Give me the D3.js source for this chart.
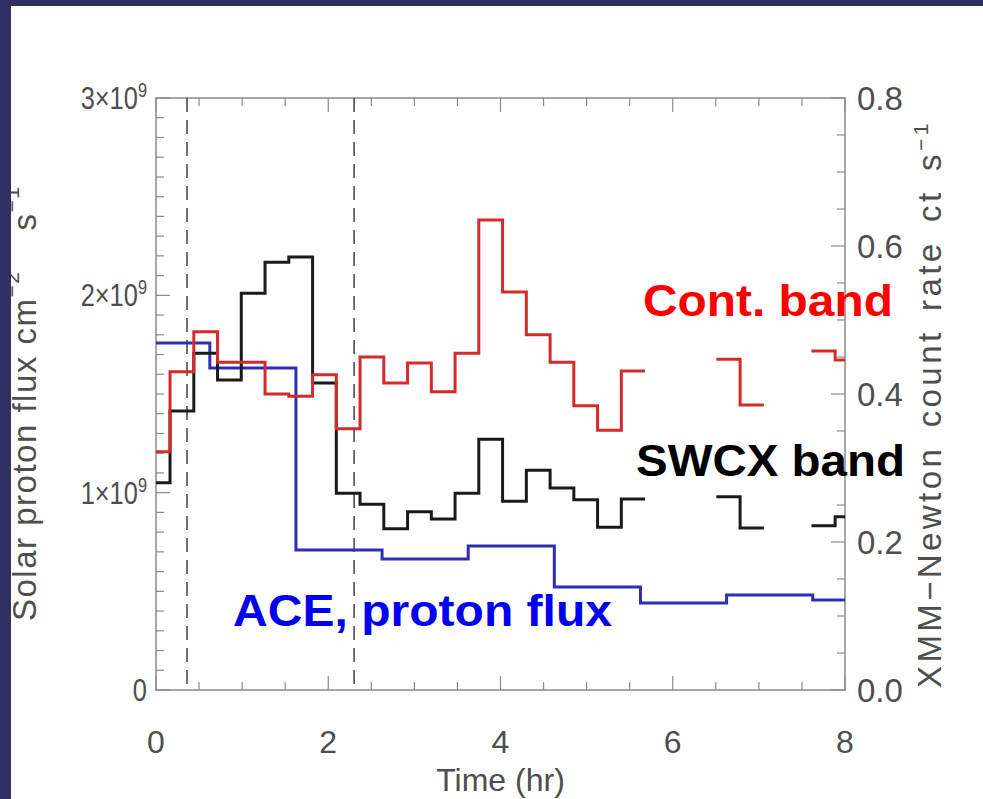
<!DOCTYPE html>
<html><head><meta charset="utf-8">
<script src="https://cdn.jsdelivr.net/npm/d3@7/dist/d3.min.js"></script>
<style>html,body{margin:0;padding:0;background:#fff;}svg{display:block;}</style>
</head><body><svg id="c" width="983" height="799"></svg>
<script>
// ---- data ----
// XMM-Newton light curve bins (bin centre, hr); null = no data
const xrayTime = [0.025,0.301,0.577,0.852,1.128,1.404,1.680,1.956,2.231,2.507,2.783,3.059,3.335,3.610,3.886,4.162,4.438,4.714,4.989,5.265,5.541,5.817,6.093,6.368,6.644,6.920,7.196,7.472,7.748,8.023];
const contBand = [0.322,0.430,0.484,0.443,0.443,0.400,0.397,0.426,0.353,0.450,0.415,0.442,0.403,0.455,0.635,0.538,0.480,0.443,0.384,0.351,0.431,null,null,null,0.447,0.385,null,null,0.458,0.446];
const swcxBand = [0.280,0.377,0.455,0.419,0.536,0.578,0.585,0.415,0.266,0.251,0.218,0.241,0.231,0.266,0.339,0.255,0.297,0.273,0.257,0.220,0.258,null,null,null,0.261,0.219,null,null,0.222,0.234];
// ACE hourly proton flux (bin centre, hr)
const aceTime = [0.125,1.125,2.125,3.125,4.125,5.125,6.125,7.125,8.125];
const aceFlux = [1.759e9,1.632e9,0.710e9,0.664e9,0.730e9,0.522e9,0.441e9,0.481e9,0.456e9];
// dashed markers
const markerTimes = [0.36, 2.30];
// ticks
const xTicks = [0,2,4,6,8];
const leftTicks = [0,1e9,2e9,3e9];
const rightTicks = [0,0.2,0.4,0.6,0.8];
const labels = ["Cont. band","SWCX band","ACE, proton flux"];

// ---- layout ----
const svg = d3.select("#c");
const L=156, R=845, T=98, B=690;
const x = d3.scaleLinear().domain([0,8]).range([L,R]);
const yL = d3.scaleLinear().domain([0,3e9]).range([B,T]);
const yR = d3.scaleLinear().domain([0,0.8]).range([B,T]);
const axisCol="#8a8a8a", txtCol="#4e4e4e";
const FONT="'Liberation Sans', Arial, sans-serif";

svg.append("rect").attr("width",983).attr("height",799).attr("fill","#fff");

svg.append("defs").append("clipPath").attr("id","pc")
  .append("rect").attr("x",L).attr("y",T).attr("width",R-L).attr("height",B-T);

// frame
svg.append("rect").attr("x",L).attr("y",T).attr("width",R-L).attr("height",B-T)
  .attr("fill","none").attr("stroke",axisCol).attr("stroke-width",1.5);

const tk = svg.append("g").attr("stroke",axisCol).attr("stroke-width",1.2);
// x ticks (bottom & top)
d3.range(0,8.001,0.5).forEach(t=>{
  const major = xTicks.includes(t); const len = major?14:8;
  tk.append("line").attr("x1",x(t)).attr("x2",x(t)).attr("y1",B).attr("y2",B-len);
  tk.append("line").attr("x1",x(t)).attr("x2",x(t)).attr("y1",T).attr("y2",T+len);
});
// left ticks
d3.range(0,3e9+1,1e8).forEach(v=>{
  const major = leftTicks.some(m=>Math.abs(m-v)<1);
  const len = major?14:8;
  tk.append("line").attr("x1",L).attr("x2",L+len).attr("y1",yL(v)).attr("y2",yL(v));
});
// right ticks
d3.range(0,0.8001,0.05).forEach(v=>{
  const major = rightTicks.some(m=>Math.abs(m-v)<1e-6);
  const len = major?14:8;
  tk.append("line").attr("x1",R).attr("x2",R-len).attr("y1",yR(v)).attr("y2",yR(v));
});

// tick labels
const tl = svg.append("g").attr("font-family",FONT).attr("fill",txtCol);
xTicks.forEach(t=>{
  tl.append("text").attr("x",x(t)).attr("y",B+63).attr("text-anchor","middle")
    .attr("font-size",32).text(d3.format("d")(t));
});
leftTicks.forEach(v=>{
  const t = tl.append("text").attr("transform",`translate(${L-9},${yL(v)+11}) scale(0.82,1)`)
    .attr("text-anchor","end").attr("font-size",31);
  if(v===0){ t.text("0"); }
  else {
    t.append("tspan").text(d3.format("d")(v/1e9)+"×10");
    t.append("tspan").attr("dy",-12).attr("font-size",20).text("9");
  }
});
rightTicks.forEach(v=>{
  tl.append("text").attr("x",R+12).attr("y",yR(v)+12).attr("text-anchor","start")
    .attr("font-size",33).text(d3.format(".1f")(v));
});

// axis titles
tl.append("text").attr("x",(L+R)/2).attr("y",B+101).attr("text-anchor","middle")
  .attr("font-size",32).text("Time (hr)");
const lt = tl.append("text").attr("transform",`translate(36,${B-69}) rotate(-90)`)
  .attr("font-size",33).attr("letter-spacing",1.5);
lt.append("tspan").text("Solar proton flux cm");
lt.append("tspan").attr("dy",-17).attr("font-size",21).text("−2");
lt.append("tspan").attr("dy",17).attr("dx",40).text("s");
lt.append("tspan").attr("dy",-17).attr("font-size",21).text("−1");
const rt = tl.append("text").attr("transform",`translate(941,${B-2}) rotate(-90)`)
  .attr("font-size",33).attr("letter-spacing",3.4).attr("word-spacing",6);
rt.append("tspan").text("XMM−Newton count rate ct s");
rt.append("tspan").attr("dy",-13).attr("font-size",21).text("−1");

// dashed markers
svg.append("g").selectAll("line").data(markerTimes).join("line")
  .attr("x1",d=>x(d)).attr("x2",d=>x(d)).attr("y1",T).attr("y2",B)
  .attr("stroke","#333").attr("stroke-width",1.4).attr("stroke-dasharray","14,8");

// step histograms
function runs(times, vals){
  const out=[]; let cur=[];
  times.forEach((t,i)=>{
    if(vals[i]==null){ if(cur.length){out.push(cur);cur=[];} }
    else cur.push([t,vals[i]]);
  });
  if(cur.length) out.push(cur);
  return out;
}
function drawSteps(times, vals, yScale, color, width){
  const hw = (times[1]-times[0])/2;
  const line = d3.line().x(d=>x(d[0])).y(d=>yScale(d[1])).curve(d3.curveStep);
  const g = svg.append("g").attr("clip-path","url(#pc)");
  runs(times, vals).forEach(r=>{
    const pts = [[r[0][0]-hw, r[0][1]], ...r, [r[r.length-1][0]+hw, r[r.length-1][1]]];
    g.append("path").attr("d",line(pts)).attr("fill","none")
      .attr("stroke",color).attr("stroke-width",width).attr("stroke-linejoin","miter");
  });
}
drawSteps(aceTime, aceFlux, yL, "#2e2eb4", 3);
drawSteps(xrayTime, swcxBand, yR, "#1a1a1a", 3);
drawSteps(xrayTime, contBand, yR, "#d42a2a", 3);

// annotations
const ann = svg.append("g").attr("font-family",FONT).attr("font-weight","bold");
ann.append("text").attr("x",643).attr("y",316).attr("font-size",44).attr("fill","#ff0000")
  .attr("textLength",250).attr("lengthAdjust","spacingAndGlyphs").text(labels[0]);
ann.append("text").attr("x",636).attr("y",476).attr("font-size",44).attr("fill","#000")
  .attr("textLength",269).attr("lengthAdjust","spacingAndGlyphs").text(labels[1]);
ann.append("text").attr("x",233).attr("y",626).attr("font-size",45).attr("fill","#0000ee")
  .attr("textLength",379).attr("lengthAdjust","spacingAndGlyphs").text(labels[2]);

// slide border
svg.append("rect").attr("x",0).attr("y",0).attr("width",983).attr("height",6).attr("fill","#302f64");
svg.append("rect").attr("x",0).attr("y",0).attr("width",11).attr("height",799).attr("fill","#302f64");
</script></body></html>
